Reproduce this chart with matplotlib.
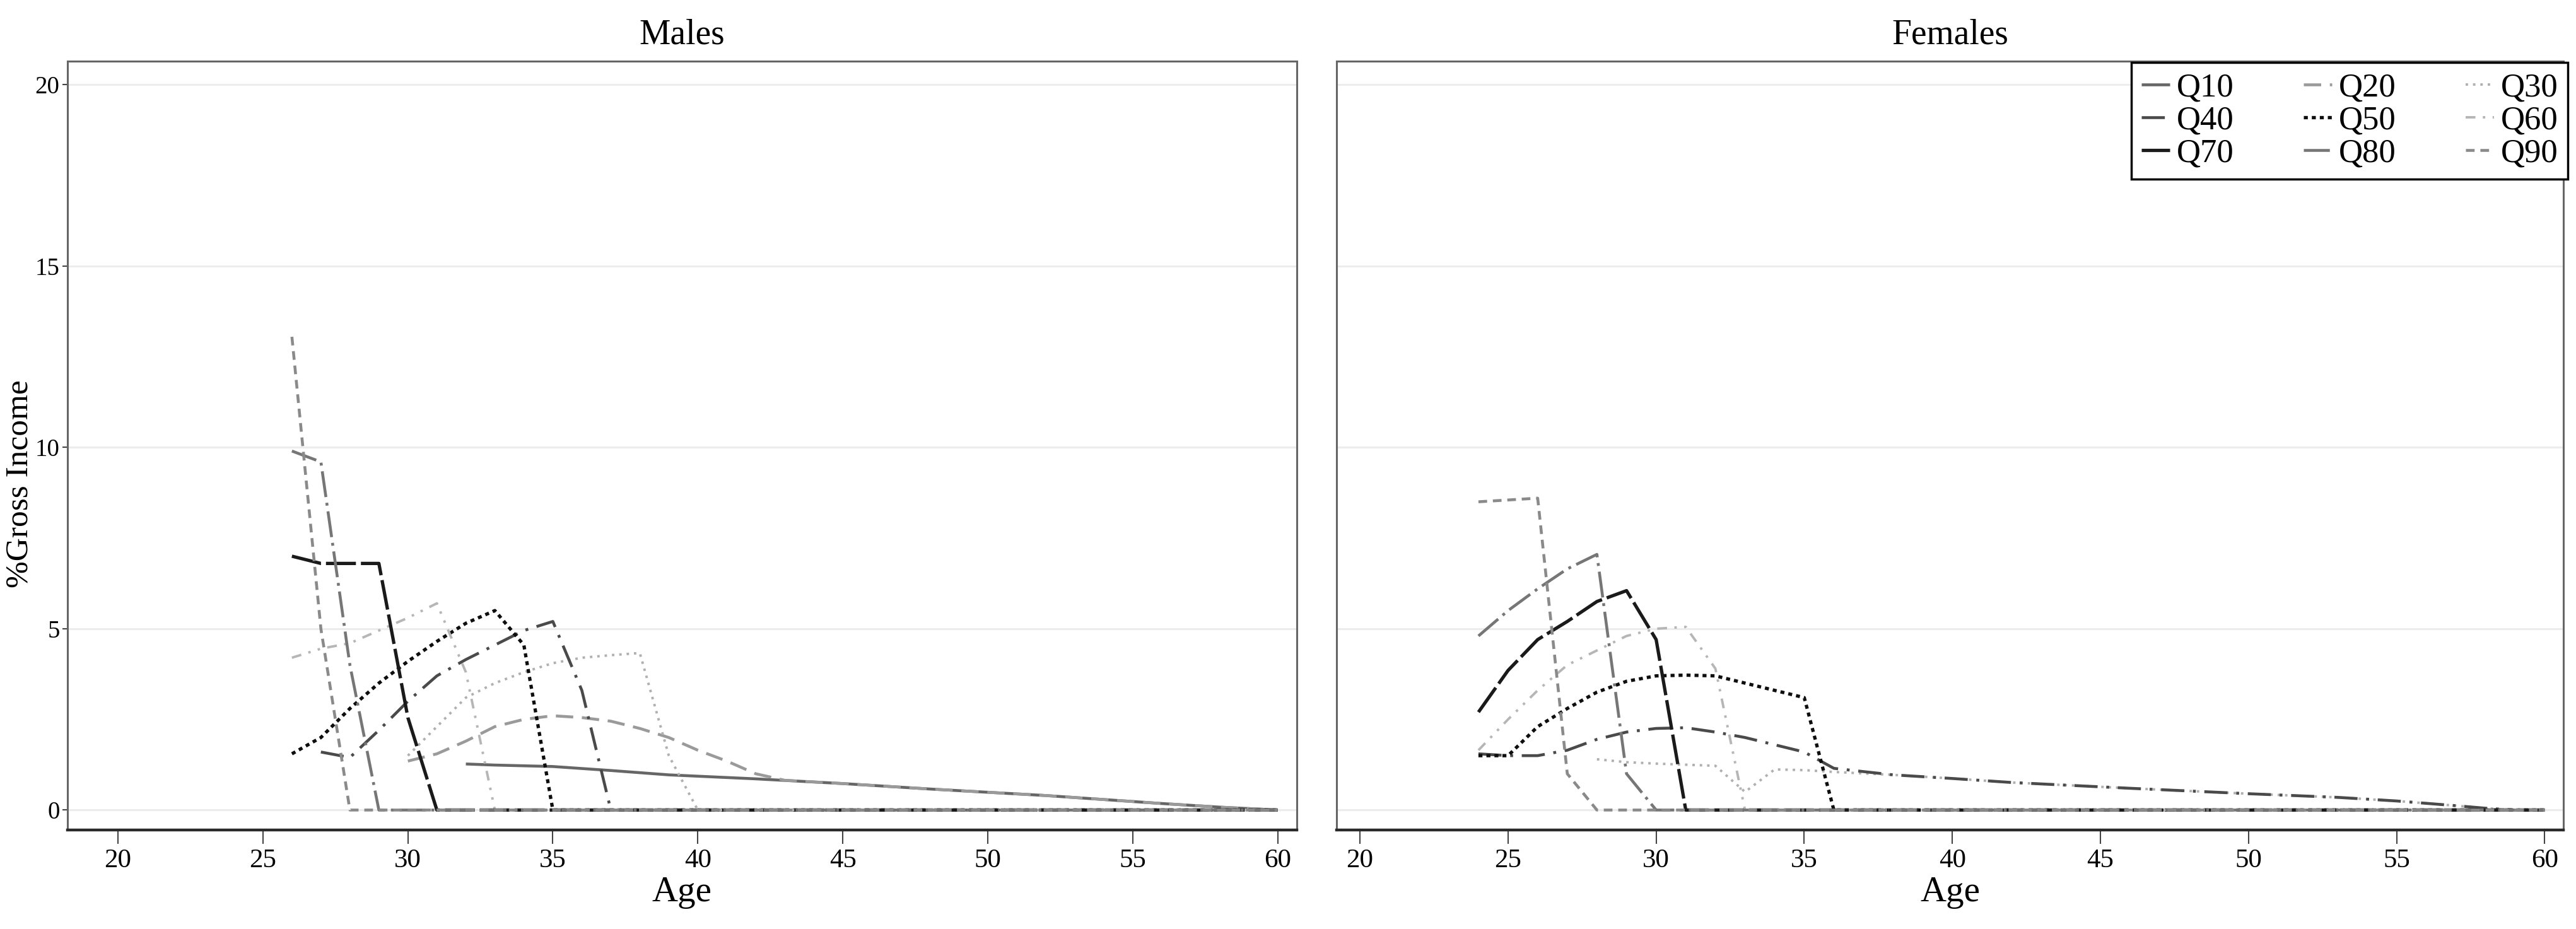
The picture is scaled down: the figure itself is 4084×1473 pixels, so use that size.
import numpy as np
import matplotlib.pyplot as plt

plt.rcParams['font.family'] = ['Liberation Serif', 'DejaVu Serif']

labels = ['Q10', 'Q20', 'Q30', 'Q40', 'Q50', 'Q60', 'Q70', 'Q80', 'Q90']

# Males: age and % of gross income
m_q10_age = [32, 33, 35, 37, 39, 42, 45, 48, 52, 56, 58, 60]
m_q10_val = [1.27, 1.24, 1.2, 1.09, 0.97, 0.86, 0.73, 0.58, 0.4, 0.18, 0.08, 0]
m_q20_age = [30, 31, 32, 33, 34, 35, 36, 37, 38, 39, 40, 41, 42, 43, 45, 48, 52, 56, 58, 60]
m_q20_val = [1.35, 1.55, 1.9, 2.3, 2.5, 2.6, 2.55, 2.45, 2.25, 2.0, 1.65, 1.35, 1.0, 0.82, 0.73, 0.58, 0.4, 0.18, 0.08, 0]
m_q30_age = [30, 31, 32, 33, 34, 35, 36, 37, 38, 39, 40, 60]
m_q30_val = [1.5, 2.3, 3.1, 3.5, 3.8, 4.05, 4.2, 4.27, 4.33, 1.5, 0, 0]
m_q40_age = [27, 28, 29, 30, 31, 32, 33, 34, 35, 36, 37, 60]
m_q40_val = [1.6, 1.45, 2.2, 3.0, 3.7, 4.15, 4.55, 4.95, 5.2, 3.3, 0, 0]
m_q50_age = [26, 27, 28, 29, 30, 31, 32, 33, 34, 35, 60]
m_q50_val = [1.55, 2.0, 2.8, 3.5, 4.1, 4.65, 5.15, 5.5, 4.55, 0, 0]
m_q60_age = [26, 27, 28, 29, 30, 31, 32, 33, 60]
m_q60_val = [4.2, 4.45, 4.6, 4.95, 5.3, 5.7, 3.8, 0, 0]
m_q70_age = [26, 27, 28, 29, 30, 31, 60]
m_q70_val = [7.0, 6.8, 6.8, 6.8, 2.55, 0, 0]
m_q80_age = [26, 27, 28, 29, 60]
m_q80_val = [9.9, 9.6, 4.0, 0, 0]
m_q90_age = [26, 27, 28, 60]
m_q90_val = [13.05, 5.0, 0, 0]

# Females
f_q10_age = []
f_q10_val = []
f_q20_age = []
f_q20_val = []
f_q30_age = [28, 29, 30, 31, 32, 33, 34, 35, 36, 38, 40, 42, 44, 46, 50, 53, 55, 57, 58, 59, 60]
f_q30_val = [1.4, 1.32, 1.28, 1.25, 1.22, 0.5, 1.12, 1.1, 1.05, 0.97, 0.87, 0.76, 0.68, 0.6, 0.45, 0.35, 0.25, 0.12, 0.05, 0, 0]
f_q40_age = [24, 25, 26, 27, 28, 29, 30, 31, 32, 33, 34, 35, 36, 38, 40, 42, 44, 46, 50, 53, 55, 57, 58, 59, 60]
f_q40_val = [1.55, 1.5, 1.5, 1.65, 1.95, 2.15, 2.25, 2.27, 2.15, 2.0, 1.8, 1.6, 1.15, 0.97, 0.87, 0.76, 0.68, 0.6, 0.45, 0.35, 0.25, 0.12, 0.05, 0, 0]
f_q50_age = [24, 25, 26, 27, 28, 29, 30, 31, 32, 33, 34, 35, 36, 60]
f_q50_val = [1.5, 1.5, 2.3, 2.8, 3.25, 3.55, 3.7, 3.72, 3.7, 3.5, 3.3, 3.1, 0, 0]
f_q60_age = [24, 25, 26, 27, 28, 29, 30, 31, 32, 33, 60]
f_q60_val = [1.65, 2.5, 3.3, 4.0, 4.4, 4.8, 5.0, 5.05, 3.9, 0, 0]
f_q70_age = [24, 25, 26, 27, 28, 29, 30, 31, 60]
f_q70_val = [2.7, 3.85, 4.7, 5.2, 5.75, 6.05, 4.7, 0, 0]
f_q80_age = [24, 25, 26, 27, 28, 29, 30, 60]
f_q80_val = [4.8, 5.5, 6.1, 6.65, 7.05, 1.0, 0, 0]
f_q90_age = [24, 25, 26, 27, 28, 60]
f_q90_val = [8.5, 8.55, 8.6, 1.0, 0, 0]

males = [(m_q10_age, m_q10_val), (m_q20_age, m_q20_val), (m_q30_age, m_q30_val),
         (m_q40_age, m_q40_val), (m_q50_age, m_q50_val), (m_q60_age, m_q60_val),
         (m_q70_age, m_q70_val), (m_q80_age, m_q80_val), (m_q90_age, m_q90_val)]
females = [(f_q10_age, f_q10_val), (f_q20_age, f_q20_val), (f_q30_age, f_q30_val),
           (f_q40_age, f_q40_val), (f_q50_age, f_q50_val), (f_q60_age, f_q60_val),
           (f_q70_age, f_q70_val), (f_q80_age, f_q80_val), (f_q90_age, f_q90_val)]

# grey mono styles, one per quantile
colors = ['#666666', '#9a9a9a', '#b0b0b0', '#4a4a4a', '#0e0e0e', '#b6b6b6', '#1a1a1a', '#767676', '#8a8a8a']
widths = [3.3, 3.3, 2.8, 3.3, 3.8, 2.8, 3.8, 3.3, 3.3]
dashes = [(), (6, 3), (1, 2), (8, 3, 1, 3), (1.2, 1.2), (4, 3, 1, 3, 1, 3), (9, 1.5), (9, 2, 1, 2), (3, 2)]

W, H = 4084, 1473
fig = plt.figure(figsize=(W / 100, H / 100), dpi=100)
ax_m = fig.add_axes([107 / W, 1 - 1316 / H, (2056 - 107) / W, (1316 - 97) / H])
ax_f = fig.add_axes([2119 / W, 1 - 1316 / H, (4064 - 2119) / W, (1316 - 97) / H])


def draw(ax, series, title, xlim):
    handles = []
    for (age, val), lab, c, lw, d in zip(series, labels, colors, widths, dashes):
        ln, = ax.plot(age, val, color=c, lw=lw, label=lab, solid_capstyle='butt', dash_capstyle='butt')
        if d:
            ln.set_dashes(d)
        handles.append(ln)
    ax.set_xlim(*xlim)
    ax.set_ylim(-0.55, 20.65)
    ax.set_xticks(np.arange(20, 61, 5))
    ax.set_yticks(np.arange(0, 21, 5))
    ax.yaxis.grid(True, color='#ececec', lw=2.2)
    ax.set_axisbelow(True)
    ax.tick_params(axis='x', length=16, width=1.5, color='#444444', labelsize=31, pad=5)
    ax.tick_params(axis='y', length=6, width=1.5, color='#444444', labelsize=28, pad=3)
    for s in ['left', 'top', 'right']:
        ax.spines[s].set_color('#666666')
        ax.spines[s].set_linewidth(2.2)
    ax.spines['bottom'].set_color('#2a2a2a')
    ax.spines['bottom'].set_linewidth(3.2)
    ax.set_xlabel('Age', fontsize=41, labelpad=4)
    ax.set_title(title, fontsize=40, pad=20)
    return handles


h = draw(ax_m, males, 'Males', (18.26, 60.66))
draw(ax_f, females, 'Females', (19.21, 60.63))

ax_m.set_ylabel('%Gross Income', fontsize=37)
ax_m.yaxis.set_label_coords(-0.027, 0.45)
ax_f.tick_params(axis='y', left=False, labelleft=False)

order = [0, 3, 6, 1, 4, 7, 2, 5, 8]
leg = ax_f.legend([h[i] for i in order], [labels[i] for i in order], ncol=3,
                  loc='upper right', bbox_to_anchor=(1.0036, 0.998), borderaxespad=0.0,
                  fontsize=38, handlelength=0.85, handletextpad=0.2, columnspacing=2.1,
                  labelspacing=0.08, borderpad=0.3, fancybox=False, framealpha=1)
leg.get_frame().set_edgecolor('black')
leg.get_frame().set_linewidth(2.5)

fig.savefig('out.png', dpi=100)
